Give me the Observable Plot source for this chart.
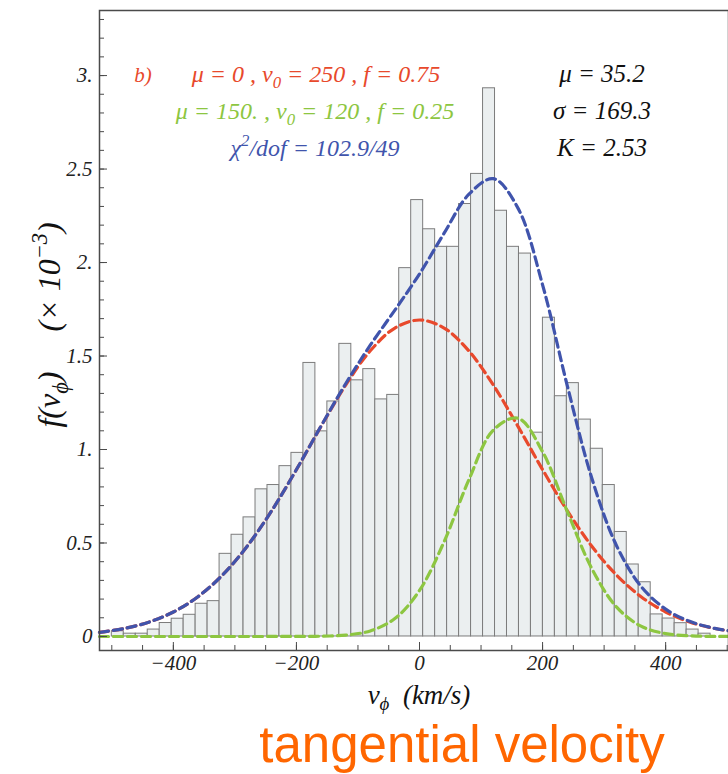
<!DOCTYPE html>
<html><head><meta charset="utf-8">
<script src="https://cdn.jsdelivr.net/npm/d3@7"></script>
<script src="https://cdn.jsdelivr.net/npm/@observablehq/plot@0.6"></script>
<style>
html,body{margin:0;padding:0;background:#fff;overflow:hidden}
#chart svg{display:block}
</style></head><body><div id="chart"></div>
<script>
// ---- histogram: bin edges (km/s) and heights (x10^-3) ----
const binEdges = [-500,-480.54,-461.08,-441.62,-422.16,-402.7,-383.24,-363.78,-344.32,-324.86,
  -305.4,-285.94,-266.48,-247.02,-227.56,-208.1,-188.64,-169.18,-149.72,-130.26,
  -110.8,-91.34,-71.88,-52.42,-32.96,-13.5,5.96,25.42,44.88,64.34,
  83.8,103.26,122.72,142.18,161.64,181.1,200.56,220.02,239.48,258.94,
  278.4,297.86,317.32,336.78,356.24,375.7,395.16,414.62,434.08,453.54,473.0];
const binHeights = [0.028,0.015,0.015,0.037,0.072,0.095,0.116,0.175,0.189,0.442,
  0.544,0.637,0.787,0.810,0.911,0.982,1.463,1.097,1.257,1.565,
  1.370,1.430,1.268,1.292,1.970,2.334,2.178,2.084,2.084,2.313,
  2.474,2.932,2.277,2.084,2.048,1.090,1.705,1.285,1.355,1.160,
  1.004,0.810,0.559,0.385,0.290,0.118,0.096,0.071,0.037,0.015];

// ---- fitted curves (x10^-3) ----
const curveV = [-520,-480,-440,-400,-360,-320,-280,-240,-200,-160,-120,-80,-40,0,
  40,80,120,160,200,240,280,320,360,400,440,480,520];
const redFit = [0.0224,0.0424,0.0764,0.1308,0.2128,0.3289,0.4828,0.6735,0.8925,1.1238,1.3443,1.5279,1.6498,1.6926,
  1.6498,1.5279,1.3443,1.1238,0.8925,0.6735,0.4828,0.3289,0.2128,0.1308,0.0764,0.0424,0.0224];
const greenFit = [0,0,0,0,0,0,0,0.00003,0.0002,0.0015,0.0074,0.0298,0.0958,0.2463,
  0.5072,0.8363,1.1041,1.1672,0.9880,0.6697,0.3635,0.1580,0.0550,0.0153,0.0034,0.0006,0.0001];
const blueFit = [0.0224,0.0424,0.0764,0.1308,0.2128,0.3289,0.4828,0.6735,0.8927,1.1253,1.3517,1.5577,1.7456,1.9389,
  2.1570,2.3642,2.4484,2.2910,1.8805,1.3432,0.8463,0.4869,0.2678,0.1461,0.0798,0.0430,0.0225];

// ---- ticks ----
const xMajorTicks = [-400,-200,0,200,400];
const xTickLabels = ["\u2212400","\u2212200","0","200","400"];
const xMinorTicks = [-500,-450,-400,-350,-300,-250,-200,-150,-100,-50,0,50,100,150,200,250,300,350,400,450,500];
const yMajorTicks = [0,0.5,1,1.5,2,2.5,3];
const yTickLabels = ["0","0.5","1.","1.5","2.","2.5","3."];
const yMinorTicks = [0,0.1,0.2,0.3,0.4,0.5,0.6,0.7,0.8,0.9,1,1.1,1.2,1.3,1.4,1.5,1.6,1.7,1.8,1.9,2,2.1,2.2,2.3,2.4,2.5,2.6,2.7,2.8,2.9,3,3.1,3.2,3.3];
const xDomain = [-520, 520];
const yDomain = [-0.075, 3.348];

const colors = {red: "#e8492c", green: "#8dc641", blue: "#4054ac"};
const bins = binHeights.map((h, i) => ({x1: binEdges[i], x2: binEdges[i + 1], h}));
const fitRows = (vals, key) => curveV.map((v, i) => ({v, f: vals[i], key}));

const serif = "'Liberation Serif','Times New Roman',serif";
const axisStroke = "#4a4a4a";

const plot = Plot.plot({
  width: 728, height: 774,
  marginTop: 10, marginBottom: 124, marginLeft: 99, marginRight: 0,
  x: {domain: xDomain, range: [99, 739]},
  y: {domain: yDomain},
  style: {fontFamily: serif, fontStyle: "italic", fontSize: "21px", color: "#222", background: "#fff", overflow: "hidden"},
  marks: [
    Plot.rect(bins, {x1: "x1", x2: "x2", y1: () => 0, y2: "h", fill: "#ebeff0", stroke: "#7c7c7c", strokeWidth: 1}),
    Plot.line(fitRows(redFit, "red"), {x: "v", y: "f", stroke: colors.red, strokeWidth: 3.2, strokeDasharray: "9,5", curve: "catmull-rom"}),
    Plot.line(fitRows(blueFit, "blue"), {x: "v", y: "f", stroke: colors.blue, strokeWidth: 3.2, strokeDasharray: "9,5", curve: "catmull-rom"}),
    Plot.line(fitRows(greenFit, "green"), {x: "v", y: "f", stroke: colors.green, strokeWidth: 3.2, strokeDasharray: "9,5", curve: "catmull-rom"}),
    Plot.frame({stroke: axisStroke, strokeWidth: 1.5}),
    Plot.axisX(xMinorTicks, {anchor: "bottom", tickSize: -5, tickPadding: 0, tickFormat: () => "", label: null, stroke: axisStroke}),
    Plot.axisX(xMajorTicks, {anchor: "bottom", tickSize: -8, tickPadding: 13, tickFormat: d => xTickLabels[xMajorTicks.indexOf(d)], label: null, stroke: axisStroke, fill: "#222"}),
    Plot.axisY(yMinorTicks, {anchor: "left", tickSize: -5, tickPadding: 0, tickFormat: () => "", label: null, stroke: axisStroke}),
    Plot.axisY(yMajorTicks, {anchor: "left", tickSize: -8, tickPadding: 15, tickFormat: d => yTickLabels[yMajorTicks.indexOf(d)], label: null, stroke: axisStroke, fill: "#222"})
  ]
});
document.getElementById("chart").appendChild(plot);

// ---- rich text annotations ----
const svg = d3.select(plot);
function richText(x, y, parts, o = {}) {
  const size = o.size || 24;
  const t = svg.append("text")
    .attr("x", x).attr("y", y)
    .attr("text-anchor", o.anchor || "middle")
    .attr("fill", o.color || "#111")
    .style("font-family", o.family || serif)
    .style("font-style", o.fontStyle || "italic")
    .style("font-size", size + "px");
  if (o.rotate) t.attr("transform", `rotate(${o.rotate},${x},${y})`);
  let shift = 0;
  for (const p of parts) {
    const [str, kind] = Array.isArray(p) ? p : [p, null];
    const target = kind === "sub" ? size * 0.24 : kind === "sup" ? -size * 0.42 : 0;
    const ts = t.append("tspan").text(str).attr("dy", target - shift);
    if (kind) ts.style("font-size", (size * 0.7) + "px");
    shift = target;
  }
  return t;
}

richText(143, 82, ["b)"], {color: colors.red, size: 21});
richText(316, 82, ["\u03bc = 0 , v", ["0", "sub"], " = 250 , f = 0.75"], {color: colors.red});
richText(315, 119, ["\u03bc = 150. , v", ["0", "sub"], " = 120 , f = 0.25"], {color: colors.green});
richText(315, 156, ["\u03c7", ["2", "sup"], "/dof = 102.9/49"], {color: colors.blue});
richText(602, 82, ["\u03bc = 35.2"], {color: "#111", size: 25});
richText(602, 119, ["\u03c3 = 169.3"], {color: "#111", size: 25});
richText(602, 156, ["K = 2.53"], {color: "#111", size: 25});

// axis titles
richText(419, 704, ["v", ["\u03d5", "sub"], "  (km/s)"], {size: 27, color: "#111"});
richText(60, 325, ["f(v", ["\u03d5", "sub"], ")", "     (\u00d7 10", ["\u22123", "sup"], ")"], {size: 32, color: "#111", rotate: -90});

// caption
svg.append("text")
  .attr("x", 462).attr("y", 762)
  .attr("text-anchor", "middle")
  .attr("fill", "#ff6600")
  .style("font-family", "'Liberation Sans', Arial, sans-serif")
  .style("font-style", "normal")
  .style("font-size", "51px")
  .text("tangential velocity");
</script>
</body></html>
